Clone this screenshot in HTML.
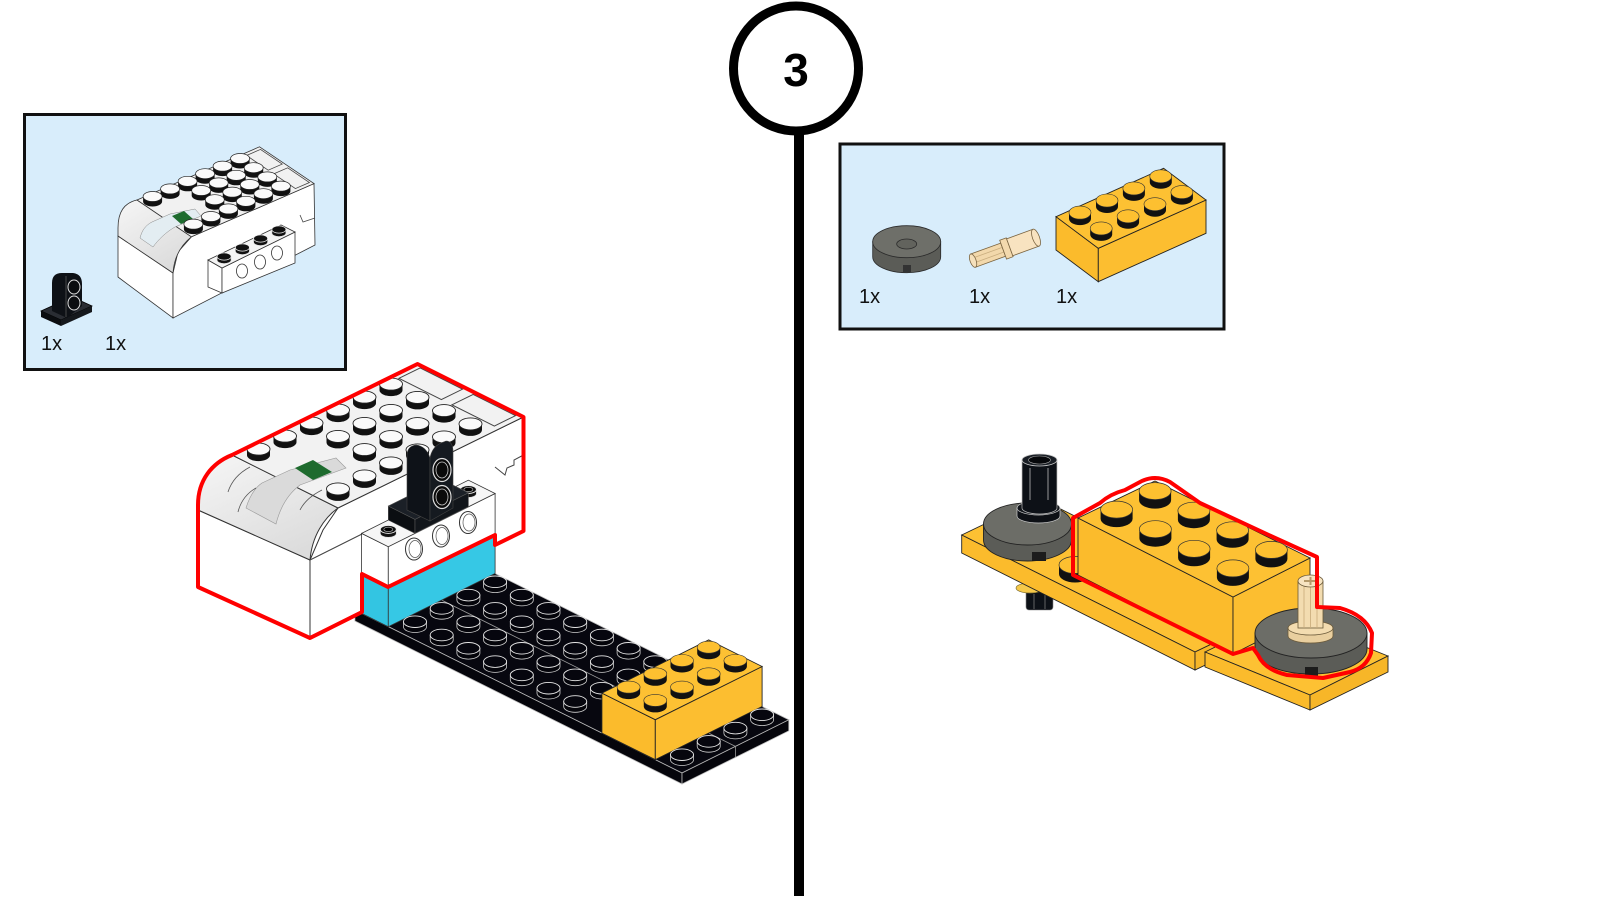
<!DOCTYPE html>
<html><head><meta charset="utf-8"><style>html,body{margin:0;padding:0;background:#fff;}svg{display:block}</style></head>
<body>
<svg width="1600" height="900" viewBox="0 0 1600 900" xmlns="http://www.w3.org/2000/svg">
<defs>
<g id="sw"><path d="M-11.5,0 V6 A11.5,6 0 0 0 11.5,6 V0 Z" fill="#111"/><ellipse rx="11.5" ry="6" fill="#fafafa" stroke="#222" stroke-width="0.9"/></g>
<g id="sb"><path d="M-11.5,0 V5 A11.5,5.8 0 0 0 11.5,5 V0 Z" fill="#04040a" stroke="#cfcfcf" stroke-width="0.8"/><ellipse rx="11.5" ry="5.8" fill="#06060e" stroke="#e6e6e6" stroke-width="0.9"/></g>
<g id="sy"><path d="M-11.5,0 V6 A11.5,6 0 0 0 11.5,6 V0 Z" fill="#111"/><ellipse rx="11.5" ry="6" fill="#fdc030" stroke="#333" stroke-width="0.6"/></g>
<g id="swb"><path d="M-9.5,0 V5 A9.5,5 0 0 0 9.5,5 V0 Z" fill="#111"/><ellipse rx="9.5" ry="5" fill="#fafafa" stroke="#222" stroke-width="0.7"/></g>
<g id="syb"><path d="M-11,0 V6 A11,6.5 0 0 0 11,6 V0 Z" fill="#111"/><ellipse rx="11" ry="6.5" fill="#fdc030" stroke="#333" stroke-width="0.6"/></g>
<g id="syl"><path d="M-16,0 V9 A16,8.5 0 0 0 16,9 V0 Z" fill="#111"/><ellipse rx="16" ry="8.5" fill="#fdc030" stroke="#333" stroke-width="0.7"/></g>
<g id="sh"><path d="M-8,0 V4 A8,4 0 0 0 8,4 V0 Z" fill="#111" stroke="#ddd" stroke-width="0.7"/><ellipse rx="8" ry="4" fill="#111" stroke="#eee" stroke-width="0.9"/><ellipse rx="4.5" ry="2.2" fill="#000" stroke="#bbb" stroke-width="0.6"/></g>
<g id="shb"><path d="M-7,0 V3.5 A7,3.6 0 0 0 7,3.5 V0 Z" fill="#111" stroke="#ddd" stroke-width="0.6"/><ellipse rx="7" ry="3.6" fill="#111" stroke="#eee" stroke-width="0.7"/></g>
<linearGradient id="gc" x1="0" y1="0" x2="0.6" y2="1"><stop offset="0" stop-color="#f6f6f6"/><stop offset="1" stop-color="#dcdcdc"/></linearGradient>
</defs>
<rect width="1600" height="900" fill="#fff"/>

<!-- ================= BOX 1 ================= -->
<rect x="24.5" y="114.5" width="321" height="255" fill="#d8edfb" stroke="#111" stroke-width="3"/>
<polygon points="41,311 72,297 92,306 61,320" fill="#2a2d33" stroke="#000" stroke-width="0.8"/>
<polygon points="41,311 61,320 61,326 41,317" fill="#0b0d10"/>
<polygon points="61,320 92,306 92,312 61,326" fill="#15181c"/>
<path d="M52,311 L52,283 Q52,273 62,273 L73,273 Q82,274 82,284 L82,306 L67,318 Z" fill="#0e1116"/>
<path d="M66,276 L66,317" stroke="#555" stroke-width="0.8"/>
<ellipse cx="74" cy="287" rx="6" ry="7" fill="#0b0d10" stroke="#ddd" stroke-width="1"/>
<ellipse cx="74" cy="303" rx="6" ry="7" fill="#0b0d10" stroke="#ddd" stroke-width="1"/>
<polygon points="118,236 173,273 173,318 118,277" fill="#fff" stroke="#333" stroke-width="0.8"/>
<polygon points="173,273 178,252 191.4,236.8 314,183.6 315,245 173,318" fill="#fff" stroke="#333" stroke-width="0.8"/>
<path d="M118,236 L118,228 C118,212 124,203 137,200 L191.4,236.8 C180,246 174,258 173,273 Z" fill="url(#gc)" stroke="#333" stroke-width="0.8"/>
<polygon points="137,200 259.5,146.8 314,183.6 191.4,236.8" fill="#f1f1f1" stroke="#333" stroke-width="0.8"/>
<path d="M140,238 C142,230 146,225 152,222 L170,214 L195,209 L201,216 L175,227 C166,232 158,240 153,247 Z" fill="#e3edf2" stroke="#888" stroke-width="0.5"/>
<polygon points="172,216 184,211 193,219 181,224" fill="#1e6b2e"/>
<polygon points="246.5,155.5 260.5,149.4 282.2,164.1 268.2,170.2" fill="none" stroke="#444" stroke-width="0.8"/>
<polygon points="273.7,173.9 287.7,167.8 309.4,182.5 295.4,188.6" fill="none" stroke="#444" stroke-width="0.8"/>
<path d="M300,215 L303,222 L309,220 L315,218" fill="none" stroke="#444" stroke-width="0.8"/>
<use href="#swb" x="240.1" y="158.5"/><use href="#swb" x="222.6" y="166.1"/><use href="#swb" x="205.1" y="173.7"/><use href="#swb" x="187.6" y="181.3"/><use href="#swb" x="170.1" y="188.9"/><use href="#swb" x="152.6" y="196.5"/>
<use href="#swb" x="253.7" y="167.7"/><use href="#swb" x="236.2" y="175.3"/><use href="#swb" x="218.7" y="182.9"/><use href="#swb" x="201.2" y="190.5"/>
<use href="#swb" x="267.3" y="176.9"/><use href="#swb" x="249.8" y="184.5"/><use href="#swb" x="232.3" y="192.1"/><use href="#swb" x="214.8" y="199.7"/>
<use href="#swb" x="280.9" y="186.1"/><use href="#swb" x="263.4" y="193.7"/><use href="#swb" x="245.9" y="201.3"/><use href="#swb" x="228.4" y="208.9"/><use href="#swb" x="210.9" y="216.5"/><use href="#swb" x="193.4" y="224.1"/>
<polygon points="208,260 222,268 222,293 208,287" fill="#fff" stroke="#333" stroke-width="0.8"/>
<polygon points="222,268 295,232 295,263 222,293" fill="#fff" stroke="#333" stroke-width="0.8"/>
<polygon points="208,260 281,225 295,232 222,268" fill="#f4f4f4" stroke="#333" stroke-width="0.8"/>
<ellipse cx="242" cy="271" rx="5.5" ry="7" fill="#fff" stroke="#333" stroke-width="0.8"/>
<ellipse cx="260" cy="262" rx="5.5" ry="7" fill="#fff" stroke="#333" stroke-width="0.8"/>
<ellipse cx="277" cy="253" rx="5.5" ry="7" fill="#fff" stroke="#333" stroke-width="0.8"/>
<use href="#shb" x="278.9" y="229.5"/><use href="#shb" x="260.6" y="238.5"/><use href="#shb" x="242.4" y="247.5"/><use href="#shb" x="224.1" y="256.5"/>
<text x="41" y="350" font-family="Liberation Sans, sans-serif" font-size="20" fill="#111">1x</text>
<text x="105" y="350" font-family="Liberation Sans, sans-serif" font-size="20" fill="#111">1x</text>

<!-- ================= BOX 2 ================= -->
<rect x="840" y="144" width="384" height="185" fill="#d8edfb" stroke="#111" stroke-width="3"/>
<path d="M872.7,241.7 V256.7 A34,16 0 0 0 940.7,256.7 V241.7 Z" fill="#5b5c57" stroke="#2a2a2a" stroke-width="0.8"/>
<ellipse cx="906.7" cy="241.7" rx="34" ry="16" fill="#6e6f69" stroke="#2a2a2a" stroke-width="0.8"/>
<ellipse cx="906.7" cy="244" rx="10" ry="5" fill="#62635d" stroke="#2a2a2a" stroke-width="0.8"/>
<rect x="903" y="265" width="8" height="7" fill="#333"/>
<g transform="translate(1005,249) rotate(-20)">
<rect x="-34" y="-7" width="32" height="14" fill="#f2d8ab" stroke="#7a6440" stroke-width="0.8"/>
<path d="M-34,-2.5 H-2 M-34,2.5 H-2" stroke="#c9ad7e" stroke-width="0.8"/>
<ellipse cx="-34" cy="0" rx="3" ry="7" fill="#f5e0bb" stroke="#7a6440" stroke-width="0.8"/>
<rect x="-2" y="-10" width="7" height="20" fill="#f3d9ad" stroke="#7a6440" stroke-width="0.8"/>
<rect x="5" y="-9" width="28" height="18" fill="#f8e3c0" stroke="#7a6440" stroke-width="0.8"/>
<ellipse cx="33" cy="0" rx="3.5" ry="9" fill="#f8e3c0" stroke="#7a6440" stroke-width="0.8"/>
</g>
<polygon points="1056,216.7 1098.3,248.3 1098.3,281.7 1056,250" fill="#fbbb2c" stroke="#222" stroke-width="0.9"/>
<polygon points="1098.3,248.3 1206,200 1206,233.3 1098.3,281.7" fill="#fcbe30" stroke="#222" stroke-width="0.9"/>
<polygon points="1056,216.7 1098.3,248.3 1206,200 1163.6,168.3" fill="#fdc133" stroke="#222" stroke-width="0.9"/>
<use href="#syb" x="1160.8" y="176.3"/><use href="#syb" x="1133.9" y="188.4"/><use href="#syb" x="1107" y="200.5"/><use href="#syb" x="1080" y="212.6"/>
<use href="#syb" x="1181.9" y="192.1"/><use href="#syb" x="1155" y="204.2"/><use href="#syb" x="1128.1" y="216.3"/><use href="#syb" x="1101.2" y="228.4"/>
<text x="859" y="303" font-family="Liberation Sans, sans-serif" font-size="20" fill="#111">1x</text>
<text x="969" y="303" font-family="Liberation Sans, sans-serif" font-size="20" fill="#111">1x</text>
<text x="1056" y="303" font-family="Liberation Sans, sans-serif" font-size="20" fill="#111">1x</text>

<!-- ================= STEP NUMBER ================= -->
<rect x="794" y="126" width="10" height="770" fill="#000"/>
<circle cx="796" cy="68.5" r="62.5" fill="#fff" stroke="#000" stroke-width="9"/>
<text x="796" y="86" font-family="Liberation Sans, sans-serif" font-weight="bold" font-size="46" text-anchor="middle" fill="#000">3</text>

<!-- ================= LEFT ASSEMBLY ================= -->
<polygon points="682,773 788.8,719.8 461.7,556.9 354.9,610" fill="#07070f" stroke="#bbb" stroke-width="0.8"/>
<polygon points="354.9,610 682,773 682,784 354.9,621" fill="#05050b" stroke="#bbb" stroke-width="0.8"/>
<polygon points="682,773 788.8,719.8 788.8,730.8 682,784" fill="#05050b" stroke="#bbb" stroke-width="0.8"/>
<path d="M735.4,746.4 L441.7,600.1" stroke="#9a9a9a" stroke-width="0.8"/>
<path d="M735.4,746.4 V757" stroke="#9a9a9a" stroke-width="0.8"/>
<polygon points="198,510 310,560 310,637 198,587" fill="#fff" stroke="#333" stroke-width="1"/>
<polygon points="310,560 323,530 338,508 523.5,417 523.5,531 310,637" fill="#fff" stroke="#333" stroke-width="1"/>
<path d="M198,510 L198,500 C198,478 212,463 232,455 L338,508 C324,518 312,536 310,560 Z" fill="url(#gc)" stroke="#333" stroke-width="1"/>
<polygon points="232,455 417.5,364 523.5,417 338,508" fill="#f2f2f2" stroke="#333" stroke-width="1"/>
<path d="M246,508 C250,495 256,487 262,483 L290,470 L336,458 L346,468 L300,485 C288,494 280,508 276,524 Z" fill="#dadada" stroke="#999" stroke-width="0.6"/>
<polygon points="295,468 313,460 332,472 313,480" fill="#1e6b2e"/>
<path d="M228,492 Q233,476 250,467 M238,512 Q242,496 256,488 M300,510 Q306,498 322,490" fill="none" stroke="#555" stroke-width="0.8"/>
<path d="M310,560 L362,534 M495,467 L505,475 L507,468 L514,465 L514,460 L523.5,455" fill="none" stroke="#444" stroke-width="1"/>
<polygon points="398.95,378.35 420.15,367.95 462.55,389.15 441.35,399.55" fill="none" stroke="#444" stroke-width="1"/>
<polygon points="451.95,404.85 473.15,394.45 515.55,415.65 494.35,426.05" fill="none" stroke="#444" stroke-width="1"/>
<use href="#sw" x="391" y="384.1"/><use href="#sw" x="364.5" y="397.1"/><use href="#sw" x="338" y="410.1"/><use href="#sw" x="311.5" y="423.1"/><use href="#sw" x="285" y="436.1"/><use href="#sw" x="258.5" y="449.1"/>
<use href="#sw" x="417.5" y="397.4"/><use href="#sw" x="391" y="410.4"/><use href="#sw" x="364.5" y="423.4"/><use href="#sw" x="338" y="436.4"/>
<use href="#sw" x="444" y="410.6"/><use href="#sw" x="417.5" y="423.6"/><use href="#sw" x="391" y="436.6"/><use href="#sw" x="364.5" y="449.6"/>
<use href="#sw" x="470.5" y="423.9"/><use href="#sw" x="444" y="436.9"/><use href="#sw" x="417.5" y="449.9"/><use href="#sw" x="391" y="462.9"/><use href="#sw" x="364.5" y="475.9"/><use href="#sw" x="338" y="488.9"/>
<polygon points="361.6,573.4 388.3,586.7 388.3,626.7 361.6,613.4" fill="#33c5e2" stroke="#333" stroke-width="0.8"/>
<polygon points="388.3,586.7 495.1,533.5 495.1,573.5 388.3,626.7" fill="#36c8e5" stroke="#333" stroke-width="0.8"/>
<polygon points="361.6,533.4 388.3,546.7 388.3,586.7 361.6,573.4" fill="#fff" stroke="#333" stroke-width="0.8"/>
<polygon points="388.3,546.7 495.1,493.5 495.1,533.5 388.3,586.7" fill="#fff" stroke="#333" stroke-width="0.8"/>
<polygon points="361.6,533.4 388.3,546.7 495.1,493.5 468.4,480.2" fill="#f6f6f6" stroke="#333" stroke-width="0.8"/>
<ellipse cx="414" cy="549" rx="8.5" ry="11" fill="#fff" stroke="#333" stroke-width="1"/><ellipse cx="415" cy="549" rx="6" ry="8.5" fill="none" stroke="#555" stroke-width="0.7"/>
<ellipse cx="441" cy="536" rx="8.5" ry="11" fill="#fff" stroke="#333" stroke-width="1"/><ellipse cx="442" cy="536" rx="6" ry="8.5" fill="none" stroke="#555" stroke-width="0.7"/>
<ellipse cx="468" cy="522.5" rx="8.5" ry="11" fill="#fff" stroke="#333" stroke-width="1"/><ellipse cx="469" cy="522.5" rx="6" ry="8.5" fill="none" stroke="#555" stroke-width="0.7"/>
<use href="#sh" x="468.4" y="489.5"/>
<use href="#sh" x="388.3" y="529.4"/>
<polygon points="388.3,506 415,519.4 415,533.4 388.3,520.1" fill="#0b0e12" stroke="#555" stroke-width="0.6"/>
<polygon points="415,519.4 468.4,492.8 468.4,506.8 415,533.4" fill="#12161b" stroke="#555" stroke-width="0.6"/>
<polygon points="388.3,506 415,519.4 468.4,492.8 441.7,479.5" fill="#1b2027" stroke="#555" stroke-width="0.6"/>
<path d="M407,510 L407,456 Q407,446 416,445 Q426,446 430,458 L430,521 Z" fill="#0e1218" stroke="#444" stroke-width="0.6"/>
<path d="M430,521 L430,458 Q432,447 441,443 L446,441 Q453,441 453,452 L453,508 Z" fill="#151a20" stroke="#444" stroke-width="0.6"/>
<ellipse cx="442" cy="470" rx="9" ry="11.5" fill="#0a0a0a" stroke="#ddd" stroke-width="1.2"/><ellipse cx="442" cy="470" rx="6" ry="8" fill="none" stroke="#ccc" stroke-width="0.8"/>
<ellipse cx="442" cy="497" rx="9" ry="11.5" fill="#0a0a0a" stroke="#ddd" stroke-width="1.2"/><ellipse cx="442" cy="497" rx="6" ry="8" fill="none" stroke="#ccc" stroke-width="0.8"/>
<path d="M198,587 L198,505 C198,480 212,463 232,455 L417.5,364 L523.5,417 L523.5,531 L495,545 L495,535 L388,587 L362,574 L362,612 L310,638 Z" fill="none" stroke="#ff0000" stroke-width="4" stroke-linejoin="round"/>
<use href="#sb" x="495.1" y="581.8"/><use href="#sb" x="468.4" y="595.1"/><use href="#sb" x="441.7" y="608.4"/><use href="#sb" x="415" y="621.7"/>
<use href="#sb" x="521.8" y="595.1"/><use href="#sb" x="495.1" y="608.4"/><use href="#sb" x="468.4" y="621.7"/><use href="#sb" x="441.7" y="635"/>
<use href="#sb" x="548.5" y="608.4"/><use href="#sb" x="521.8" y="621.7"/><use href="#sb" x="495.1" y="635"/><use href="#sb" x="468.4" y="648.3"/>
<use href="#sb" x="575.2" y="621.7"/><use href="#sb" x="548.5" y="635"/><use href="#sb" x="521.8" y="648.3"/><use href="#sb" x="495.1" y="661.6"/>
<use href="#sb" x="601.9" y="635"/><use href="#sb" x="575.2" y="648.3"/><use href="#sb" x="548.5" y="661.6"/><use href="#sb" x="521.8" y="674.9"/>
<use href="#sb" x="628.6" y="648.3"/><use href="#sb" x="601.9" y="661.6"/><use href="#sb" x="575.2" y="674.9"/><use href="#sb" x="548.5" y="688.2"/>
<use href="#sb" x="655.3" y="661.6"/><use href="#sb" x="628.6" y="674.9"/><use href="#sb" x="601.9" y="688.2"/><use href="#sb" x="575.2" y="701.5"/>
<polygon points="601.9,693.1 655.3,719.7 655.3,759.7 601.9,733.1" fill="#fbbb2c" stroke="#222" stroke-width="0.9"/>
<polygon points="655.3,719.7 762.1,666.5 762.1,706.5 655.3,759.7" fill="#fcbe30" stroke="#222" stroke-width="0.9"/>
<polygon points="601.9,693.1 655.3,719.7 762.1,666.5 708.7,639.9" fill="#fdc133" stroke="#222" stroke-width="0.9"/>
<use href="#sy" x="708.7" y="647.2"/><use href="#sy" x="682" y="660.5"/><use href="#sy" x="655.3" y="673.8"/><use href="#sy" x="628.6" y="687.1"/>
<use href="#sy" x="735.4" y="660.5"/><use href="#sy" x="708.7" y="673.8"/><use href="#sy" x="682" y="687.1"/><use href="#sy" x="655.3" y="700.4"/>
<use href="#sb" x="762.1" y="714.8"/><use href="#sb" x="735.4" y="728.1"/><use href="#sb" x="708.7" y="741.4"/><use href="#sb" x="682" y="754.7"/>

<!-- ================= RIGHT ASSEMBLY ================= -->
<rect x="1026" y="590" width="27" height="20" rx="3" fill="#0d1117" stroke="#888" stroke-width="0.6"/>
<path d="M1034,594 V609 M1045,594 V609" stroke="#888" stroke-width="0.7"/>
<ellipse cx="1030" cy="588" rx="14" ry="5" fill="#f6c94a" stroke="#7a6a30" stroke-width="0.7"/>
<polygon points="961.7,535 1038.7,498 1272,615 1195,652" fill="#fdc133" stroke="#222" stroke-width="0.9"/>
<polygon points="961.7,535 1195,652 1195,670 961.7,553" fill="#fbbb2c" stroke="#222" stroke-width="0.9"/>
<polygon points="1195,652 1272,615 1272,633 1195,670" fill="#f7b628" stroke="#222" stroke-width="0.9"/>
<polygon points="1205,652 1283,614 1388,656 1310,695" fill="#fdc133" stroke="#222" stroke-width="0.9"/>
<polygon points="1205,652 1310,695 1310,710 1205,667" fill="#fbbb2c" stroke="#222" stroke-width="0.9"/>
<polygon points="1310,695 1388,656 1388,672 1310,710" fill="#f7b628" stroke="#222" stroke-width="0.9"/>
<path d="M983.5,524 V540 A44,21 0 0 0 1071.5,540 V524 Z" fill="#5b5c57" stroke="#222" stroke-width="0.9"/>
<ellipse cx="1027.5" cy="524" rx="44" ry="21" fill="#6c6d67" stroke="#222" stroke-width="0.9"/>
<rect x="1032" y="552" width="14" height="9" fill="#1c1c1c"/>
<use href="#syl" x="1075" y="565"/>
<polygon points="1078,518 1233,597 1233,654 1078,575" fill="#fbbb2c" stroke="#222" stroke-width="0.9"/>
<polygon points="1233,597 1310,558 1310,615 1233,654" fill="#fcbe30" stroke="#222" stroke-width="0.9"/>
<polygon points="1078,518 1155,481 1310,558 1233,597" fill="#fdc133" stroke="#222" stroke-width="0.9"/>
<use href="#syl" x="1155.1" y="491.1"/><use href="#syl" x="1193.9" y="510.7"/><use href="#syl" x="1232.6" y="530.3"/><use href="#syl" x="1271.4" y="549.9"/>
<use href="#syl" x="1116.6" y="509.6"/><use href="#syl" x="1155.4" y="529.2"/><use href="#syl" x="1194.1" y="548.8"/><use href="#syl" x="1232.9" y="568.4"/>
<path d="M1255,633 V649 A56,25 0 0 0 1367,649 V633 Z" fill="#5b5c57" stroke="#222" stroke-width="0.9"/>
<ellipse cx="1311" cy="633" rx="56" ry="25" fill="#6c6d67" stroke="#222" stroke-width="0.9"/>
<rect x="1305" y="667" width="13" height="10" fill="#1c1c1c"/>
<path d="M1288,628 V636 A22.5,7 0 0 0 1333,636 V628 Z" fill="#e9cf9f" stroke="#6b5a3a" stroke-width="0.8"/>
<ellipse cx="1310.5" cy="628" rx="22.5" ry="7" fill="#f3dcb0" stroke="#6b5a3a" stroke-width="0.8"/>
<rect x="1298" y="581" width="25" height="47" fill="#f3dcb0" stroke="#6b5a3a" stroke-width="0.8"/>
<path d="M1304,586 V628 M1310.5,586 V628 M1317,586 V628" stroke="#c8ab7a" stroke-width="0.8"/>
<ellipse cx="1310.5" cy="581" rx="12.5" ry="6" fill="#f7e4c2" stroke="#6b5a3a" stroke-width="0.8"/>
<path d="M1304,581 H1317 M1310.5,577 V585" stroke="#b59a6a" stroke-width="2"/>
<path d="M1017,508 V516 A21.5,7 0 0 0 1060,516 V508 Z" fill="#0d1015" stroke="#ccc" stroke-width="0.7"/>
<ellipse cx="1038.5" cy="508" rx="21.5" ry="7" fill="#12161b" stroke="#ccc" stroke-width="0.7"/>
<path d="M1022,460 V508 A17.5,6 0 0 0 1057,508 V460 Z" fill="#0d1117" stroke="#bbb" stroke-width="0.7"/>
<ellipse cx="1039.5" cy="460" rx="17.5" ry="6" fill="#1a1f26" stroke="#ccc" stroke-width="0.8"/>
<ellipse cx="1039.5" cy="460" rx="11" ry="4" fill="#05070a" stroke="#aaa" stroke-width="0.6"/>
<path d="M1030,468 V500 M1048,468 V500" stroke="#bbb" stroke-width="0.8"/>
<path d="M1073,575 L1073,518 L1100,503 Q1110,494 1125,490 L1140,482 Q1155,474 1170,482 L1200,503 L1273,537 L1317,557 L1317,607 L1340,608 Q1365,615 1372,633 L1371,653 Q1366,668 1350,672 L1323,678 L1287,675 Q1265,670 1258,655 L1253,648 L1233,654 Z" fill="none" stroke="#ff0000" stroke-width="4" stroke-linejoin="round"/>
</svg>
</body></html>
